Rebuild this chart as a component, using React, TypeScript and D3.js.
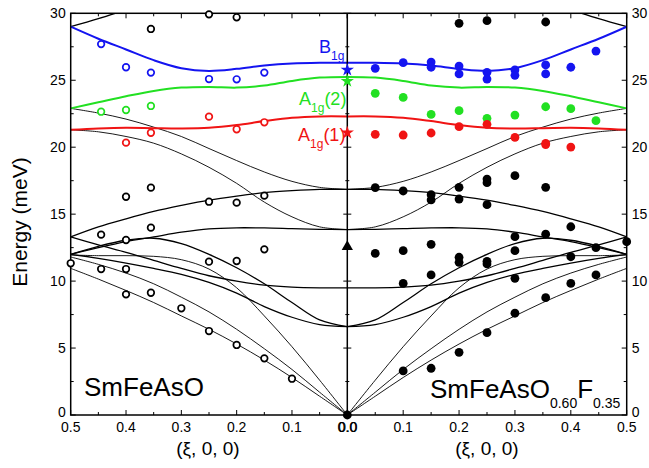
import React from "react";
import * as d3 from "d3";

// ---- calculated dispersion (same on both halves), energies at xi grid ----
const xiGrid = [0, 0.05, 0.1, 0.15, 0.2, 0.25, 0.3, 0.35, 0.4, 0.45, 0.5];
const calcB1g = [26.3, 26.3, 26.25, 26.1, 25.85, 25.7, 25.9, 26.5, 27.3, 28.1, 29.0];
const calcA1g2 = [25.25, 25.2, 24.95, 24.6, 24.45, 24.5, 24.45, 24.2, 23.8, 23.35, 22.9];
const calcA1g1 = [22.3, 22.3, 22.2, 21.95, 21.65, 21.45, 21.4, 21.42, 21.45, 21.4, 21.3];
const calcH = [33, 33, 33, 33, 33, 32.5, 31.7, 30.9, 30.25, 29.6, 29.0];
const calcA = [16.85, 17.0, 17.45, 18.15, 19.0, 19.9, 20.8, 21.5, 22.1, 22.55, 22.9];
const calcB = [16.85, 16.85, 16.75, 16.6, 16.35, 16.05, 15.65, 15.2, 14.65, 14.05, 13.3];
const calcC = [13.85, 14.05, 14.8, 15.9, 17.3, 18.5, 19.5, 20.3, 20.8, 21.15, 21.3];
const calcD = [13.85, 13.87, 13.92, 13.97, 13.98, 13.9, 13.65, 13.3, 12.95, 12.5, 12.0];
const calcE = [6.6, 7.1, 8.4, 9.8, 11.0, 12.0, 12.8, 13.2, 13.05, 12.6, 12.0];
const calcF = [9.5, 9.5, 9.55, 9.7, 10.0, 10.4, 10.95, 11.55, 12.15, 12.7, 13.3];
const calcG = [6.6, 6.75, 7.3, 8.1, 9.1, 9.9, 10.5, 10.95, 11.35, 11.7, 12.0];
const calcLA = [0, 2.6, 5.1, 7.4, 9.5, 10.9, 11.6, 11.85, 11.9, 11.9, 11.95];
const calcTA2 = [0, 1.7, 3.4, 4.95, 6.4, 7.7, 8.8, 9.8, 10.6, 11.25, 11.8];
const calcTA1 = [0, 1.4, 2.8, 4.1, 5.3, 6.4, 7.4, 8.4, 9.3, 10.15, 10.95];

// ---- SmFeAsO (left, open circles) ----
const leftBlackXi = [0.25, 0.2, 0.355, 0.4, 0.355, 0.25, 0.2, 0.15, 0.445, 0.4, 0.355, 0.5, 0.445, 0.4, 0.4, 0.355, 0.3, 0.25, 0.2, 0.15, 0.25, 0.2, 0.15, 0.1];
const leftBlackE = [29.92, 29.7, 28.83, 16.3, 16.98, 15.93, 15.86, 16.38, 13.47, 13.07, 13.99, 11.33, 10.9, 10.9, 9.01, 9.13, 7.97, 11.45, 11.5, 12.37, 6.27, 5.23, 4.23, 2.71];
const leftBlueXi = [0.445, 0.4, 0.355, 0.25, 0.2, 0.15];
const leftBlueE = [27.7, 25.97, 25.57, 25.09, 25.07, 25.57];
const leftGreenXi = [0.445, 0.4, 0.355];
const leftGreenE = [22.65, 22.78, 23.08];
const leftRedXi = [0.4, 0.355, 0.25, 0.2, 0.15];
const leftRedE = [20.34, 21.08, 22.28, 21.34, 21.86];

// ---- SmFeAsO0.60F0.35 (right, filled circles) ----
const rightBlueXi = [0.05, 0.1, 0.15, 0.15, 0.2, 0.2, 0.25, 0.25, 0.3, 0.3, 0.355, 0.355, 0.4, 0.445];
const rightBlueE = [25.89, 26.31, 26.36, 25.97, 26.06, 25.47, 25.59, 25.09, 25.77, 25.37, 26.14, 25.47, 25.97, 27.18];
const rightGreenXi = [0.05, 0.1, 0.15, 0.2, 0.25, 0.3, 0.355, 0.4, 0.445];
const rightGreenE = [24.02, 23.72, 22.45, 22.73, 22.16, 22.4, 23.02, 22.88, 21.98];
const rightRedXi = [0.05, 0.1, 0.15, 0.2, 0.25, 0.3, 0.355, 0.355, 0.4];
const rightRedE = [20.96, 20.91, 21.06, 21.53, 21.71, 20.73, 20.29, 20.2, 20.01];
const rightBlackXi = [0.2, 0.25, 0.355, 0.05, 0.1, 0.15, 0.15, 0.2, 0.2, 0.25, 0.25, 0.25, 0.3, 0.355, 0.05, 0.1, 0.15, 0.1, 0.15, 0.2, 0.2, 0.25, 0.25, 0.3, 0.3, 0.3, 0.355, 0.4, 0.4, 0.445, 0.5, 0.445, 0.4, 0.355, 0.3, 0.25, 0.2, 0.15, 0.1];
const rightBlackE = [29.25, 29.45, 29.35, 16.98, 16.73, 16.45, 16.06, 17.0, 16.13, 17.62, 17.35, 15.71, 17.87, 17.0, 12.07, 12.27, 12.75, 9.83, 10.46, 11.78, 11.4, 11.48, 11.28, 13.32, 12.27, 10.21, 13.5, 14.06, 11.82, 12.5, 12.94, 10.46, 9.83, 8.76, 7.6, 6.15, 4.68, 3.49, 3.29];

// Raman (zone centre) values
const ramanE = [25.77, 24.94, 21.08];
const triangleE = 12.57;

const yTicks = [0, 5, 10, 15, 20, 25, 30];
const xTickLabels = ["0.0", "0.1", "0.2", "0.3", "0.4", "0.5"];

const BLUE = "#1414f0";
const GREEN = "#22e022";
const RED = "#f01414";
const FONT = "'Liberation Sans', Arial, sans-serif";

const W = 649, H = 468;
const X0 = 70.7, XC = 347.3, X1 = 626.7, YT = 13.3, YB = 415;

export default function App() {
  const xL = d3.scaleLinear().domain([0.5, 0]).range([X0, XC]);
  const xR = d3.scaleLinear().domain([0, 0.5]).range([XC, X1]);
  const y = d3.scaleLinear().domain([0, 30]).range([YB, YT]);

  const mk = (xs: d3.ScaleLinear<number, number>) =>
    d3.line<number>().x((_, i) => xs(xiGrid[i])).y((d) => y(d)).curve(d3.curveCatmullRom.alpha(0.5));

  const blackThick = [calcB, calcD, calcE, calcF, calcG, calcH];
  const blackThin = [calcA, calcC, calcLA, calcTA2, calcTA1];
  const colored: [number[], string][] = [[calcB1g, BLUE], [calcA1g2, GREEN], [calcA1g1, RED]];

  const halfTicks = d3.range(0, 11).map((i) => i * 0.05);
  const yMinor = d3.range(0, 13).map((i) => i * 2.5);

  const star = d3.symbol().type(d3.symbolStar).size(55)() as string;
  const tri = d3.symbol().type(d3.symbolTriangle).size(55)() as string;
  const ramanColors = [BLUE, GREEN, RED];

  const curves = (xs: d3.ScaleLinear<number, number>, key: string) => {
    const line = mk(xs);
    return (
      <g key={key}>
        {blackThick.map((c, i) => (
          <path key={"k" + i} d={line(c) as string} fill="none" stroke="#000" strokeWidth={1.3} />
        ))}
        {blackThin.map((c, i) => (
          <path key={"t" + i} d={line(c) as string} fill="none" stroke="#000" strokeWidth={0.9} />
        ))}
        {colored.map(([c, col], i) => (
          <path key={"c" + i} d={line(c) as string} fill="none" stroke={col} strokeWidth={2} />
        ))}
      </g>
    );
  };

  const open = (xs: number[], es: number[], col: string, k: string) =>
    xs.map((v, i) => (
      <circle key={k + i} cx={xL(v)} cy={y(es[i])} r={3.3} fill="#fff" stroke={col} strokeWidth={1.7} />
    ));
  const filled = (xs: number[], es: number[], col: string, k: string) =>
    xs.map((v, i) => <circle key={k + i} cx={xR(v)} cy={y(es[i])} r={4.4} fill={col} />);

  return (
    <svg width={W} height={H} style={{ position: "absolute", left: 0, top: 0, background: "#fff" }} fontFamily={FONT}>
      <defs>
        <clipPath id="plot">
          <rect x={X0} y={YT} width={X1 - X0} height={YB - YT} />
        </clipPath>
      </defs>
      <rect width={W} height={H} fill="#fff" />
      <g clipPath="url(#plot)">
        {curves(xL, "L")}
        {curves(xR, "R")}
      </g>

      {/* frame */}
      <rect x={X0} y={YT} width={X1 - X0} height={YB - YT} fill="none" stroke="#000" strokeWidth={1.5} />
      <line x1={XC} x2={XC} y1={YT} y2={YB} stroke="#000" strokeWidth={1.5} />

      {/* x ticks */}
      {[xL, xR].map((xs, s) =>
        halfTicks.map((t, i) => {
          const len = i % 2 === 0 ? 5 : 3;
          return (
            <g key={"xt" + s + i}>
              <line x1={xs(t)} x2={xs(t)} y1={YB} y2={YB - len} stroke="#000" strokeWidth={1} />
              <line x1={xs(t)} x2={xs(t)} y1={YT} y2={YT + len} stroke="#000" strokeWidth={1} />
            </g>
          );
        })
      )}
      {/* y ticks */}
      {yMinor.map((t, i) => {
        const len = i % 2 === 0 ? 5 : 3;
        return (
          <g key={"yt" + i}>
            <line x1={X0} x2={X0 + len} y1={y(t)} y2={y(t)} stroke="#000" strokeWidth={1} />
            <line x1={X1} x2={X1 - len} y1={y(t)} y2={y(t)} stroke="#000" strokeWidth={1} />
            <line x1={XC - len + 1} x2={XC + len - 1} y1={y(t)} y2={y(t)} stroke="#000" strokeWidth={1} />
          </g>
        );
      })}

      {/* tick labels */}
      {yTicks.map((t) => (
        <g key={"yl" + t} fontSize={14}>
          <text x={X0 - 5} y={t === 0 ? y(t) + 2 : y(t) + 5} textAnchor="end">{t}</text>
          <text x={X1 + 5} y={t === 0 ? y(t) + 2 : y(t) + 5} textAnchor="start">{t}</text>
        </g>
      ))}
      {xTickLabels.map((lab, i) => (
        <g key={"xl" + i} fontSize={14}>
          <text x={xL(i * 0.1)} y={432} textAnchor="middle">{lab}</text>
          <text x={xR(i * 0.1) + (i === 0 ? 0.6 : 0)} y={432} textAnchor="middle">{lab}</text>
        </g>
      ))}

      {/* axis titles */}
      <text x={208} y={455} textAnchor="middle" fontSize={19}>(ξ, 0, 0)</text>
      <text x={487} y={455} textAnchor="middle" fontSize={19}>(ξ, 0, 0)</text>
      <text transform={`translate(27,${222}) rotate(-90)`} textAnchor="middle" fontSize={21}>Energy (meV)</text>

      {/* data */}
      {open(leftBlackXi, leftBlackE, "#000", "lb")}
      {open(leftBlueXi, leftBlueE, BLUE, "lbl")}
      {open(leftGreenXi, leftGreenE, GREEN, "lg")}
      {open(leftRedXi, leftRedE, RED, "lr")}
      {filled(rightBlackXi, rightBlackE, "#000", "rb")}
      {filled(rightBlueXi, rightBlueE, BLUE, "rbl")}
      {filled(rightGreenXi, rightGreenE, GREEN, "rg")}
      {filled(rightRedXi, rightRedE, RED, "rr")}

      {ramanE.map((e, i) => (
        <path key={"st" + i} d={star} transform={`translate(${XC},${y(e)})`} fill={ramanColors[i]} />
      ))}
      <path d={tri} transform={`translate(${XC},${y(triangleE)})`} fill="#000" />
      <circle cx={XC} cy={y(0)} r={4.4} fill="#000" />

      {/* mode labels */}
      <text x={319} y={53} fontSize={18} fill={BLUE}>
        B<tspan fontSize={12} dy={7}>1g</tspan>
      </text>
      <text x={299} y={105} fontSize={18} fill={GREEN}>
        A<tspan fontSize={12} dy={7}>1g</tspan><tspan dy={-7}>(2)</tspan>
      </text>
      <text x={298} y={141} fontSize={18} fill={RED}>
        A<tspan fontSize={12} dy={7}>1g</tspan><tspan dy={-7}>(1)</tspan>
      </text>

      {/* sample labels */}
      <text x={84} y={396} fontSize={26}>SmFeAsO</text>
      <text x={430} y={398} fontSize={26}>
        SmFeAsO<tspan fontSize={14} dy={10}>0.60</tspan><tspan dy={-10}>F</tspan><tspan fontSize={14} dy={10}>0.35</tspan>
      </text>
    </svg>
  );
}
